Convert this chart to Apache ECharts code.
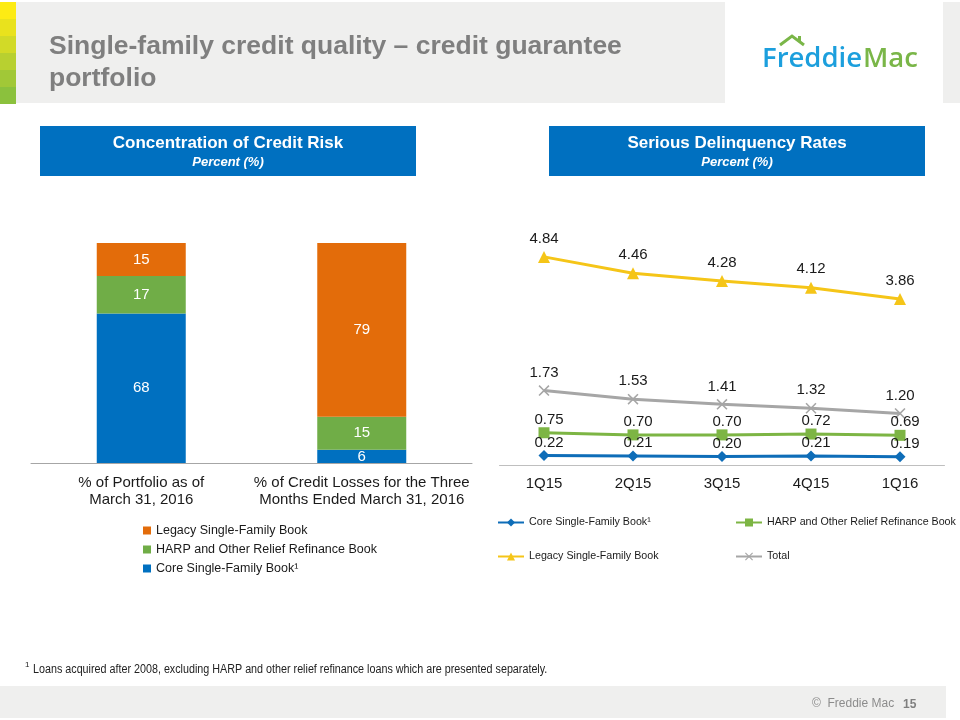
<!DOCTYPE html>
<html>
<head>
<meta charset="utf-8">
<script src="https://cdn.jsdelivr.net/npm/echarts@6/dist/echarts.min.js"></script>
<style>
  html, body { margin: 0; padding: 0; background: #ffffff; }
  #wrap { position: relative; width: 960px; height: 720px; }
  #page, #lines { position: absolute; left: 0; top: 0; width: 960px; height: 720px; }
</style>
</head>
<body>
<div id="wrap">
  <div id="page"></div>
  <div id="lines"></div>
</div>
<script>
// ---- Data ----
const barCategories = ['% of Portfolio as of\nMarch 31, 2016', '% of Credit Losses for the Three\nMonths Ended March 31, 2016'];
const barCore = [68, 6];
const barHarp = [17, 15];
const barLegacy = [15, 79];

const quarters = ['1Q15', '2Q15', '3Q15', '4Q15', '1Q16'];
const lineCore = [0.22, 0.21, 0.20, 0.21, 0.19];
const lineHarp = [0.75, 0.70, 0.70, 0.72, 0.69];
const lineLegacy = [4.84, 4.46, 4.28, 4.12, 3.86];
const lineTotal = [1.73, 1.53, 1.41, 1.32, 1.20];

const nameCore = 'Core Single-Family Book\u00B9';
const nameHarp = 'HARP and Other Relief Refinance Book';
const nameLegacy = 'Legacy Single-Family Book';
const nameTotal = 'Total';

const FONT = '"Liberation Sans", Arial, sans-serif';
const BLUE = '#0070C0', GREEN = '#70AD47', ORANGE = '#E36C0A';
const LBLUE = '#0E6DB8', LGREEN = '#7DB544', LYELLOW = '#F5C518', LGRAY = '#A6A6A6';

// ---- Page chart (header, boxes, bar chart) ----
const page = echarts.init(document.getElementById('page'), null, { renderer: 'canvas' });

const stripColors = ['#FDEB14', '#E9E21D', '#D2DA27', '#B8D030', '#A1C837', '#8BC13D'];
const graphics = [];
graphics.push({ type: 'rect', shape: { x: 0, y: 2, width: 960, height: 101 }, style: { fill: '#EFEFEE' }, z: -10 });
stripColors.forEach((c, i) => {
  graphics.push({ type: 'rect', shape: { x: 0, y: 2 + i * 17, width: 16, height: 17 }, style: { fill: c } });
});
graphics.push({ type: 'rect', shape: { x: 725, y: 2, width: 218, height: 101 }, style: { fill: '#FFFFFF' } });
graphics.push({ type: 'text', x: 49, y: 47, style: { text: 'Single-family credit quality \u2013 credit guarantee', font: 'bold 26.5px ' + FONT, fill: '#7F7F7F', verticalAlign: 'middle' } });
graphics.push({ type: 'text', x: 49, y: 79, style: { text: 'portfolio', font: 'bold 26.5px ' + FONT, fill: '#7F7F7F', verticalAlign: 'middle' } });
// logo
graphics.push({ type: 'text', x: 762, y: 59, style: { text: 'Freddie', font: '600 27.5px "Open Sans", sans-serif', fill: '#1C9FDD', verticalAlign: 'middle' } });
graphics.push({ type: 'text', x: 863, y: 59, style: { text: 'Mac', font: '600 27.5px "Open Sans", sans-serif', fill: '#7AB648', verticalAlign: 'middle' } });
graphics.push({ type: 'polyline', shape: { points: [[780, 45], [792, 36], [804, 45]] }, style: { stroke: '#7AB648', lineWidth: 3, fill: null } });
graphics.push({ type: 'rect', shape: { x: 798, y: 36, width: 3, height: 6 }, style: { fill: '#7AB648' } });
// section boxes
[[40, 'Concentration of Credit Risk'], [549, 'Serious Delinquency Rates']].forEach(([x, t]) => {
  graphics.push({ type: 'rect', shape: { x: x, y: 126, width: 376, height: 50 }, style: { fill: '#0070C0' } });
  graphics.push({ type: 'text', x: x + 188, y: 143, style: { text: t, font: 'bold 17px ' + FONT, fill: '#FFFFFF', align: 'center', verticalAlign: 'middle' } });
  graphics.push({ type: 'text', x: x + 188, y: 162, style: { text: 'Percent (%)', font: 'italic bold 13px ' + FONT, fill: '#FFFFFF', align: 'center', verticalAlign: 'middle' } });
});
// footnote
graphics.push({ type: 'text', x: 25, y: 665, style: { text: '1', font: '8px ' + FONT, fill: '#222', verticalAlign: 'middle' } });
graphics.push({ type: 'text', x: 33, y: 670, scaleX: 0.86, style: { text: 'Loans acquired after 2008, excluding HARP and other relief refinance loans which are presented separately.', font: '12.5px ' + FONT, fill: '#222', verticalAlign: 'middle' } });
// footer
graphics.push({ type: 'rect', shape: { x: 0, y: 686, width: 946, height: 32 }, style: { fill: '#EFEFEE' }, z: -10 });
graphics.push({ type: 'text', x: 812, y: 704, style: { text: '\u00A9  Freddie Mac', font: '12px ' + FONT, fill: '#8C8C8C', verticalAlign: 'middle' } });
graphics.push({ type: 'text', x: 903, y: 705, style: { text: '15', font: 'bold 12px ' + FONT, fill: '#7F7F7F', verticalAlign: 'middle' } });

const barLabel = { show: true, position: 'inside', color: '#FFFFFF', fontSize: 15, fontFamily: FONT };
page.setOption({
  animation: false,
  textStyle: { fontFamily: FONT },
  graphic: { elements: graphics },
  grid: { left: 31, right: 488, top: 243, bottom: 257, containLabel: false },
  xAxis: {
    type: 'category', data: barCategories,
    axisLine: { lineStyle: { color: '#A6A6A6', width: 1 } },
    axisTick: { show: false },
    axisLabel: { interval: 0, fontSize: 15, color: '#1A1A1A', lineHeight: 17, margin: 11, fontFamily: FONT }
  },
  yAxis: { type: 'value', min: 0, max: 100, show: false },
  legend: {
    orient: 'vertical', left: 138, top: 519, itemWidth: 8, itemHeight: 8, itemGap: 6,
    icon: 'rect', data: [nameLegacy, nameHarp, nameCore], selectedMode: false,
    textStyle: { fontSize: 12.5, color: '#1A1A1A', fontFamily: FONT }
  },
  series: [
    { name: nameCore, type: 'bar', stack: 's', data: barCore, barWidth: 89, itemStyle: { color: BLUE }, label: barLabel },
    { name: nameHarp, type: 'bar', stack: 's', data: barHarp, itemStyle: { color: GREEN }, label: barLabel },
    { name: nameLegacy, type: 'bar', stack: 's', data: barLegacy, itemStyle: { color: ORANGE }, label: barLabel }
  ]
});

// ---- Line chart ----
const lines = echarts.init(document.getElementById('lines'), null, { renderer: 'canvas' });
const crossPath = 'path://M0,1L1,0L5,4L9,0L10,1L6,5L10,9L9,10L5,6L1,10L0,9L4,5Z';
const lineLabel = (dist, off) => ({ show: true, position: 'top', distance: dist, offset: off, color: '#1A1A1A', fontSize: 15, fontFamily: FONT, formatter: p => Number(p.value).toFixed(2) });
const legendText = { fontSize: 10.7, color: '#1A1A1A', fontFamily: FONT };
const mkLegend = (name, left, top) => ({ left: left, top: top, padding: 0, itemWidth: 26, itemHeight: 10, itemGap: 2, data: [name], textStyle: legendText, selectedMode: false });
lines.setOption({
  animation: false,
  backgroundColor: 'transparent',
  grid: { left: 499.5, right: 15.5, top: 250, bottom: 255, containLabel: false },
  xAxis: {
    type: 'category', data: quarters, boundaryGap: true,
    axisLine: { lineStyle: { color: '#BFBFBF', width: 1 } },
    axisTick: { show: false },
    axisLabel: { interval: 0, fontSize: 15, color: '#1A1A1A', margin: 11, fontFamily: FONT }
  },
  yAxis: { type: 'value', min: 0, max: 5, show: false },
  legend: [
    mkLegend(nameCore, 497, 517),
    mkLegend(nameHarp, 735, 517),
    mkLegend(nameLegacy, 497, 551),
    mkLegend(nameTotal, 735, 551)
  ],
  series: [
    { name: nameCore, type: 'line', data: lineCore, symbol: 'diamond', symbolSize: 11, lineStyle: { color: LBLUE, width: 3 }, itemStyle: { color: LBLUE }, label: lineLabel(0, [5, 0]) },
    { name: nameHarp, type: 'line', data: lineHarp, symbol: 'rect', symbolSize: 11, lineStyle: { color: LGREEN, width: 3 }, itemStyle: { color: LGREEN }, label: lineLabel(0, [5, 0]) },
    { name: nameLegacy, type: 'line', data: lineLegacy, symbol: 'triangle', symbolSize: 12, lineStyle: { color: LYELLOW, width: 3 }, itemStyle: { color: LYELLOW }, label: lineLabel(5, [0, 0]) },
    { name: nameTotal, type: 'line', data: lineTotal, symbol: crossPath, symbolSize: 11, lineStyle: { color: LGRAY, width: 3 }, itemStyle: { color: LGRAY }, label: lineLabel(5, [0, 0]) }
  ]
});
</script>
</body>
</html>
